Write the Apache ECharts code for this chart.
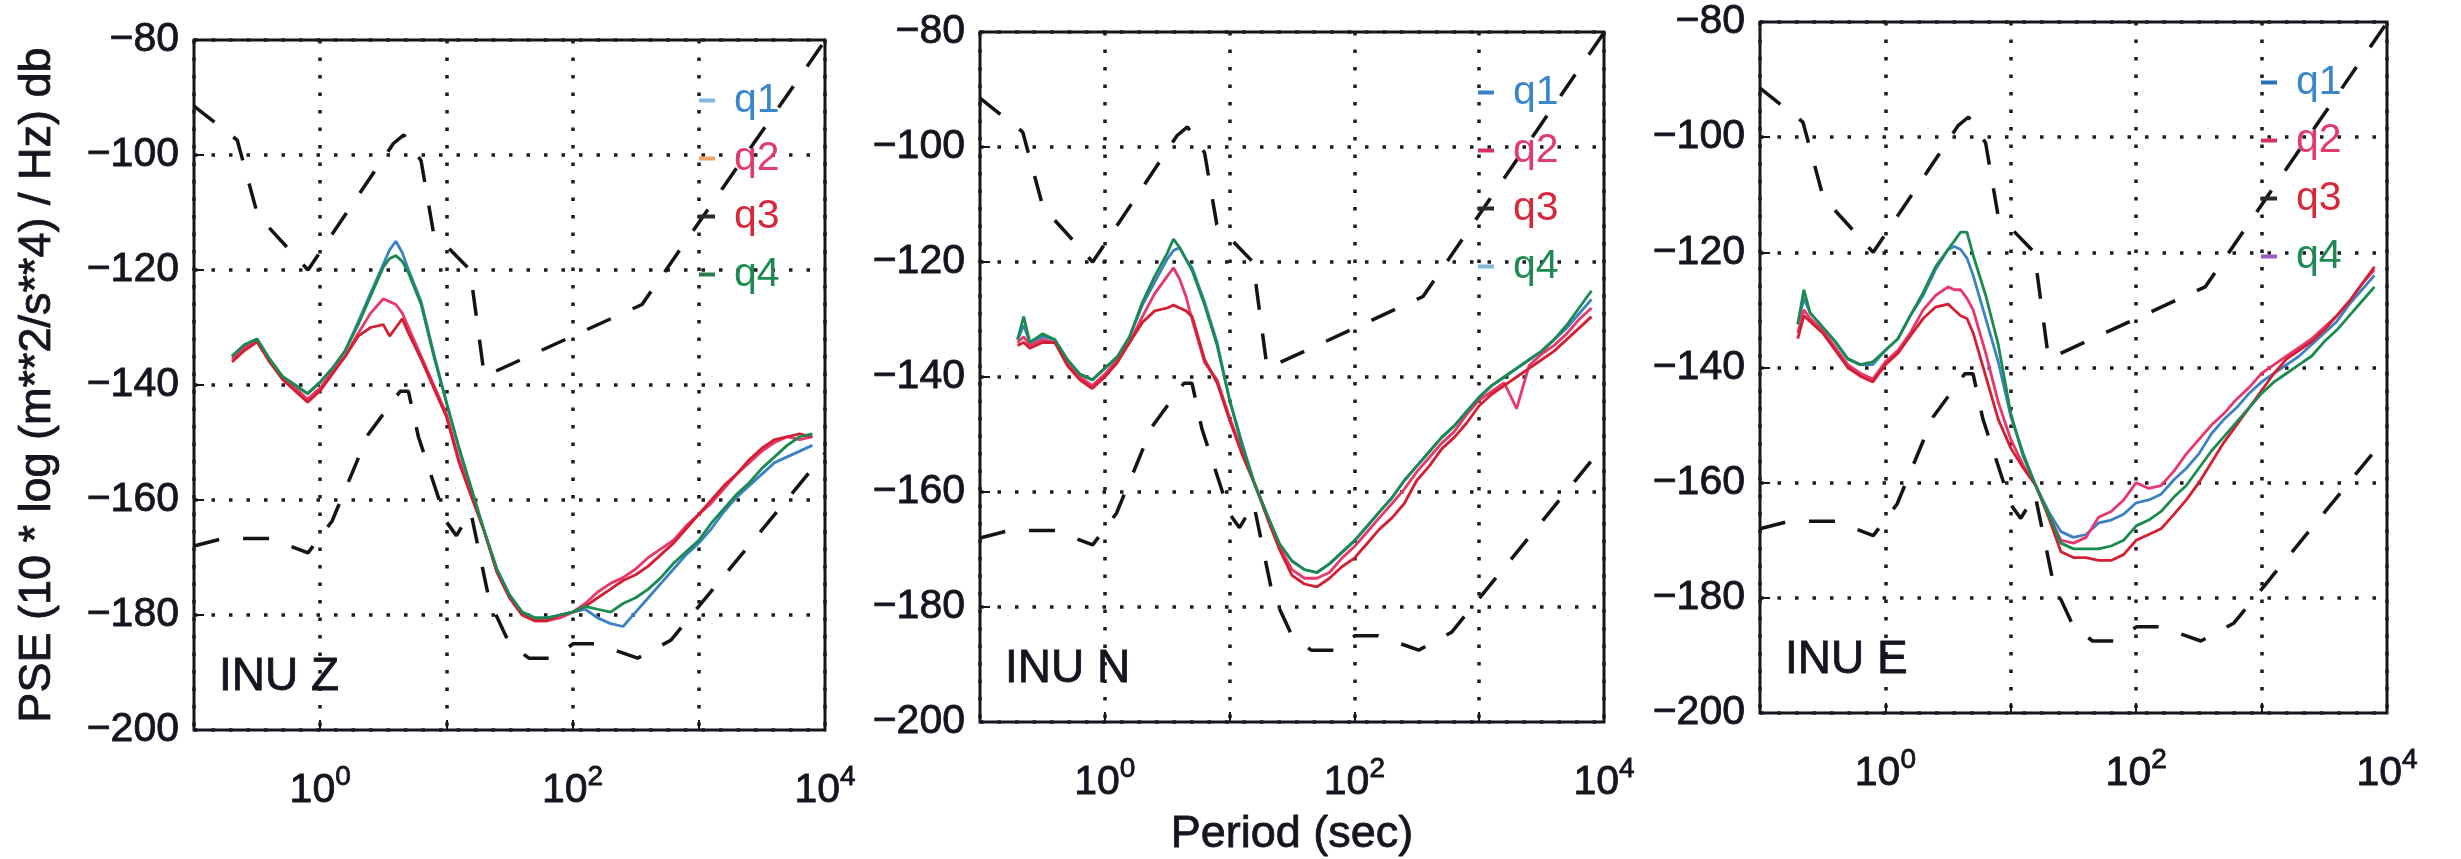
<!DOCTYPE html>
<html><head><meta charset="utf-8">
<script src="https://cdn.jsdelivr.net/npm/echarts@6/dist/echarts.min.js"></script>
<style>html,body{margin:0;padding:0;background:#fff}#c{width:2461px;height:859px}</style>
</head><body><div id="c"></div>
<script>
// ---- data ----
const periods = [0.2,0.224,0.251,0.316,0.398,0.501,0.631,0.794,1,1.26,1.58,2,2.51,3.16,3.55,3.98,4.47,5.01,6.31,7.94,10,12.6,15.8,20,25.1,31.6,39.8,50.1,63.1,79.4,100,126,158,200,251,316,398,501,631,794,1000,1259,1585,1995,2512,3162,3981,5012,6310,7943];

const zQ1 = [-135,-134,-133,-132,-135.5,-138.5,-140,-141.5,-139.5,-137,-134,-129,-124,-119,-116.5,-115,-117,-120,-125.5,-134.5,-143,-151,-158.5,-165.5,-172,-176.5,-179.5,-180.5,-180.5,-180,-179.5,-179,-180.5,-181.5,-182,-179.5,-177,-174.5,-172,-169.5,-167.5,-165,-162,-159.5,-157.5,-155.5,-153.5,-152.5,-151.5,-150.5];
const zQ2 = [-135.5,-134.5,-133.5,-132.5,-136,-138.5,-140.5,-142.5,-140.5,-137.5,-135,-131,-127.5,-125,-125.5,-126,-127.5,-130,-135,-140,-145,-153,-159,-165.5,-172.5,-177,-180,-181,-181,-180.5,-179.5,-178,-176,-174.5,-173.5,-172,-170,-168.5,-167,-164.5,-162.5,-160.5,-158,-155.5,-153.5,-151.5,-150,-149,-149.5,-149];
const zQ3 = [-136,-135,-134,-132.5,-136,-139,-141,-143,-141,-138,-135,-131.5,-130,-129.5,-131.5,-130,-128.5,-131,-135.5,-140.5,-145.5,-153.5,-159.5,-165.5,-172.5,-177,-180,-181,-181,-180,-179.5,-178.5,-177,-175.5,-174,-173,-171.5,-169.5,-167.5,-165,-162.5,-160,-157.5,-155.5,-153,-151,-149.5,-149,-148.5,-149];
const zQ4 = [-135,-134,-133,-132,-135.5,-138.5,-140,-141.5,-139.5,-137,-134,-129.5,-124.5,-119.5,-118,-117.5,-118.5,-120.5,-126,-135,-143,-151,-158,-165.5,-172,-176.5,-179.5,-180.5,-180.5,-180,-179.5,-178.5,-179,-179.5,-178,-177,-175.5,-173.5,-171,-169,-167,-164,-161.5,-159,-157,-154.5,-152.5,-150.5,-149,-148.5];

const nQ1 = [-133.5,-131,-134,-133,-133.5,-137,-139.5,-140.5,-138.5,-136.5,-133,-127.5,-123.5,-119.5,-118,-117.5,-119.5,-121,-127,-134,-144,-151.5,-158.5,-164,-169,-172,-173.5,-174,-172.5,-170.5,-168.5,-166,-163.5,-161,-158,-155.5,-153,-150.5,-148.5,-146,-143.5,-141.5,-140,-138.5,-137,-135.5,-133.5,-131.5,-129,-126.5];
const nQ2 = [-134,-133,-134.5,-133.5,-134,-137.5,-140,-141.5,-139.5,-137,-134,-129.5,-125.5,-122.5,-121,-123,-126,-130,-137.5,-140.5,-147,-153,-158.5,-164,-169.5,-173.5,-175,-175,-174,-171.5,-169.5,-167,-164.5,-162,-159.5,-156.5,-154,-151.5,-149.5,-146.5,-144,-142.5,-141,-145.5,-138,-136,-134.5,-132.5,-130,-128];
const nQ3 = [-134.5,-134,-135,-134,-134,-138,-140.5,-142,-140,-137.5,-134,-130.5,-128.5,-128,-127.5,-128,-128.5,-129.5,-137,-141,-147.5,-153.5,-158.5,-164.5,-170,-174.5,-176,-176.5,-175,-173,-171.5,-169,-166.5,-164.5,-162,-158,-155.5,-152.5,-150.5,-148,-145,-143,-141.5,-140,-138.5,-137,-135.5,-133.5,-131.5,-129.5];
const nQ4 = [-133.5,-129.5,-134,-132.5,-133.5,-137,-139.5,-140.5,-138.5,-136.5,-133,-127,-122.5,-118.5,-116,-117.5,-119.5,-121.5,-127.5,-134.5,-144,-152,-158.5,-164,-169,-172,-173.5,-174,-172.5,-170.5,-168.5,-166,-163.5,-161,-158,-155.5,-153,-150.5,-148.5,-146,-143.5,-141.5,-140,-138.5,-137,-135.5,-133.5,-131,-128,-125];

const eQ1 = [-132.5,-128,-130.5,-133,-135.5,-138.5,-139.5,-139.5,-137,-135,-131,-127.5,-123,-119.5,-119,-119.5,-121,-124,-131.5,-139,-148.5,-155,-160.5,-165,-168.5,-169.5,-169,-167,-166.5,-165.5,-163.5,-163,-162,-159.5,-157.5,-155,-151.5,-149,-147,-144.5,-142.5,-141,-139.5,-138,-136,-134,-132,-129,-126.5,-124];
const eQ2 = [-134,-130,-131.5,-133.5,-136.5,-139.5,-141,-142,-139,-137,-134,-130,-127.5,-126,-126.5,-126.5,-128,-130,-137.5,-146,-152.5,-157,-160.5,-165.5,-170,-170.5,-169.5,-166,-165,-163,-160,-161,-160.5,-158,-155,-152.5,-150,-148,-145.5,-143.5,-141,-139.5,-138,-136.5,-135,-133,-131,-128.5,-125.5,-123];
const eQ3 = [-135,-131,-132,-134,-137,-140,-141.5,-142.5,-139.5,-137.5,-134.5,-131.5,-129.5,-129,-130,-131,-131.5,-134,-141.5,-149,-154,-157.5,-160.5,-166,-172,-173,-173,-173.5,-173.5,-172.5,-170,-169,-168,-165.5,-163,-160,-156.5,-153,-150,-147,-144,-141,-138.5,-137,-135.5,-133.5,-131,-128.5,-125.5,-122.5];
const eQ4 = [-132.5,-126.5,-130.5,-133,-135.5,-138.5,-139.5,-139,-137,-135,-131,-127,-122.5,-119.5,-118,-116.5,-116.5,-120.5,-127.5,-136,-148,-155.5,-160.5,-165.5,-170.5,-171.5,-171.5,-171.5,-171,-170,-167.5,-166.5,-165,-162.5,-160.5,-157.5,-154.5,-152,-149.5,-147,-144.5,-142.5,-141,-139.5,-138,-135.5,-133.5,-131,-128.5,-126];

// reference noise curves (dashed)
const highPeriod = [0.1,0.22,0.32,0.8,3.8,4.6,6.3,7.9,15.4,20,354.8,10000];
const highDb = [-91.5,-97.4,-110.5,-120,-98,-96.5,-101,-113.5,-120,-138.5,-126,-80.1];
const lowPeriod = [0.1,0.17,0.4,0.8,1.24,2.4,4.3,5,6,10,12,15.6,21.9,31.6,45,70,101,154,328,600,10000];
const lowDb = [-168,-166.7,-166.7,-169.2,-163.7,-148.6,-141.1,-141.1,-149,-163.8,-166.2,-162.1,-177.5,-185,-187.5,-187.5,-185,-185,-187.5,-184.4,-151.9];

const seriesNames = ['q1','q2','q3','q4'];
const panelLabels = ['INU Z','INU N','INU E'];
const panelData = [[zQ1,zQ2,zQ3,zQ4],[nQ1,nQ2,nQ3,nQ4],[eQ1,eQ2,eQ3,eQ4]];
const yTickValues = [-200,-180,-160,-140,-120,-100,-80];

// ---- styles ----
const FONT = '"Liberation Sans", Arial, Helvetica, sans-serif';
const INK = '#15151f';
const lineColors = ['#3b82c4','#e8366e','#d41e32','#1b8a4f'];
const textColors = ['#3a86cc','#e23a6c','#d62838','#1e8a52'];
const iconColors = [
  ['#86b6e2','#f0a264','#2a2a2a','#2a7a50'],
  ['#3a80c8','#d83060','#2a2a2a','#7fb8d8'],
  ['#2a70b8','#d83060','#2a2a2a','#9a60c0']
];
const grids = [
  {left:194, top:40, width:631, height:690},
  {left:980, top:32, width:624, height:690},
  {left:1760, top:22, width:627, height:691}
];
const thick = {textBorderColor: INK, textBorderWidth: 0.8};

const zip = (xs, ys) => xs.map((x, i) => [x, ys[i]]);

const option = {
  animation: false,
  backgroundColor: '#fff',
  grid: grids.map(g => Object.assign({show:true, borderColor: INK, borderWidth: 3, outerBoundsMode:'none', containLabel:false}, g)),
  xAxis: grids.map((g, i) => ({
    type: 'log', logBase: 10, min: 0.1, max: 10000, gridIndex: i,
    axisLine: {show: false},
    axisTick: {show: true, inside: true, length: 10, lineStyle: {color: INK, width: 2}},
    splitLine: {show: true, lineStyle: {color: '#1c1c1c', width: 3.5, type: [3.5, 14]}},
    axisLabel: {
      showMinLabel: true, showMaxLabel: true, margin: 33,
      formatter: v => { const e = Math.round(Math.log10(v)); return (e % 2 === 0) ? '{b|10}{s|' + e + '}' : ''; },
      rich: {
        b: Object.assign({fontSize: 41, fontFamily: FONT, color: INK, lineHeight: 48, verticalAlign: 'bottom'}, thick),
        s: Object.assign({fontSize: 28, fontFamily: FONT, color: INK, lineHeight: 12, verticalAlign: 'top'}, thick)
      }
    },
    name: i === 1 ? 'Period (sec)' : '',
    nameLocation: 'middle', nameGap: 90,
    nameTextStyle: Object.assign({fontSize: 45, fontFamily: FONT, color: INK}, thick)
  })),
  yAxis: grids.map((g, i) => ({
    type: 'value', min: yTickValues[0], max: yTickValues[yTickValues.length - 1], interval: 20, gridIndex: i,
    axisLine: {show: false},
    axisTick: {show: true, inside: true, length: 10, lineStyle: {color: INK, width: 2}},
    splitLine: {show: true, lineStyle: {color: '#1c1c1c', width: 3.5, type: [3.5, 14]}},
    axisLabel: Object.assign({
      showMinLabel: true, showMaxLabel: true, margin: 15,
      fontSize: 41, fontFamily: FONT, color: INK,
      formatter: v => (v < 0 ? '\u2212' : '') + Math.abs(v)
    }, thick),
    name: i === 0 ? 'PSE (10 * log (m**2/s**4) / Hz) db' : '',
    nameLocation: 'middle', nameGap: 134, nameRotate: 90,
    nameTextStyle: Object.assign({fontSize: 45, fontFamily: FONT, color: INK}, thick)
  })),
  legend: grids.map((g, i) => ({
    left: g.left + g.width - 126, top: g.top + 40,
    orient: 'vertical', icon: 'rect', itemWidth: 16, itemHeight: 4, itemGap: 17,
    padding: 0, selectedMode: false,
    textStyle: {fontSize: 41, fontFamily: FONT, lineHeight: 40, padding: [0, 0, 0, 14]},
    data: seriesNames.map((n, k) => ({name: n, itemStyle: {color: iconColors[i][k]}, textStyle: {color: textColors[k]}}))
  })),
  graphic: grids.map((g, i) => ({
    type: 'text', x: g.left + 25, y: g.top + g.height - 53, z: 100,
    style: {text: panelLabels[i], fontSize: 46, fontFamily: FONT, fill: INK, stroke: INK, lineWidth: 0.8, verticalAlign: 'middle', textVerticalAlign: 'middle'}
  })),
  series: []
};

grids.forEach((g, i) => {
  const dash = {color: '#141414', width: 3.5, type: [26, 24]};
  option.series.push({type: 'line', name: 'high', xAxisIndex: i, yAxisIndex: i, data: zip(highPeriod, highDb), symbol: 'none', lineStyle: dash, silent: true, z: 2});
  option.series.push({type: 'line', name: 'low', xAxisIndex: i, yAxisIndex: i, data: zip(lowPeriod, lowDb), symbol: 'none', lineStyle: dash, silent: true, z: 2});
  panelData[i].forEach((vals, k) => {
    option.series.push({
      type: 'line', name: seriesNames[k], xAxisIndex: i, yAxisIndex: i,
      data: zip(periods, vals), symbol: 'none', color: lineColors[k],
      lineStyle: {color: lineColors[k], width: 2.8}, z: 3 + k
    });
  });
});

const chart = echarts.init(document.getElementById('c'), null, {renderer: 'canvas'});
chart.setOption(option);
</script>
</body></html>
